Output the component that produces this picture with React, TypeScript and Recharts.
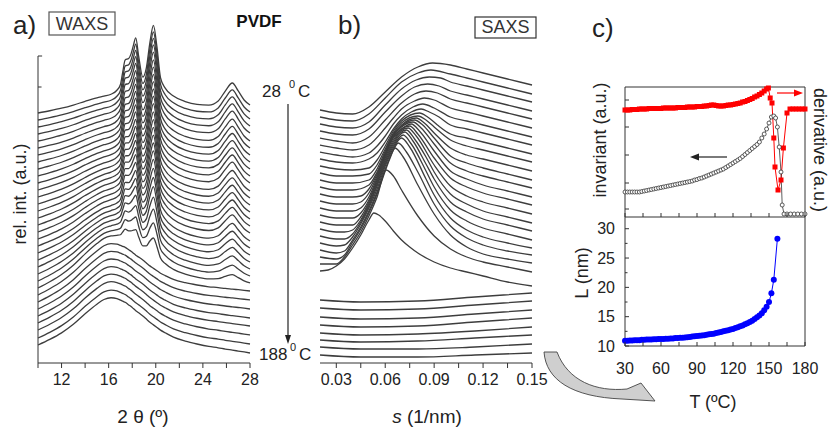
import React from "react";
import { LineChart, Line, XAxis, YAxis, ReferenceLine } from "recharts";

const FONT = '"Liberation Sans", Arial, sans-serif';
const INK = "#333";
const CURVE = "#3d3d3d";

// ---------- a) WAXS: profiles read from the pattern, one value per angle ----------
const waxsAngle = [10, 11, 12, 13, 14, 15, 15.6, 16.2, 16.7, 17.0, 17.2, 17.4, 17.7, 17.9, 18.1, 18.3, 18.55, 18.9, 19.2, 19.5, 19.8, 20.1, 20.4, 20.8, 21.5, 22.5, 23.5, 24.5, 25.3, 25.9, 26.5, 27.0, 27.5, 28];
const amorphHalo = [0, 6, 13, 22, 33, 43, 48, 50, 49.3, 48, 47, 46, 43.5, 42, 40, 38, 36, 33, 30, 27, 24.5, 22, 19.5, 17, 13, 9.5, 7, 5, 4, 3, 2.2, 1.5, 0.8, 0];
const crystalPeaks = [0, 0, 0, 0, 0, 0, 0, 1, 5, 11, 24, 36, 38, 43, 52, 60, 42, 22, 32, 58, 76, 55, 25, 15, 8, 3, 0.5, 0, 4, 14, 22, 14, 5, 0];

// semicrystalline scans (top 26): level at 10 and 28 deg, halo weight, peak scale
const crystLeft = [250, 243, 236, 229, 222, 215, 208, 201, 194, 187, 180, 173, 166, 159, 152, 145, 138, 131, 124, 117, 110, 103, 96, 89, 82, 75];
const crystRight = [258, 251, 244, 237, 230, 222, 215, 208, 201, 194, 187, 180, 172, 165, 158, 151, 144, 137, 130, 122, 115, 108, 101, 94, 87, 80];
const haloWeight = [0.3, 0.32, 0.34, 0.36, 0.38, 0.4, 0.42, 0.44, 0.46, 0.48, 0.5, 0.52, 0.55, 0.58, 0.61, 0.64, 0.67, 0.7, 0.73, 0.76, 0.8, 0.84, 0.88, 0.92, 0.96, 1.0];
const peakScale = [1, 1, 1, 1, 0.99, 0.98, 0.97, 0.96, 0.95, 0.94, 0.93, 0.92, 0.9, 0.88, 0.86, 0.84, 0.82, 0.8, 0.77, 0.74, 0.7, 0.66, 0.6, 0.52, 0.42, 0.3];
// molten scans (bottom 8)
const meltLeft = [68, 61, 54, 47, 40, 33, 25, 18];
const meltRight = [72, 63, 54, 45, 37, 28, 19, 10];

const waxsTicks = [10, 12, 14, 16, 18, 20, 22, 24, 26, 28];
const waxsLabels = [12, 16, 20, 24, 28];

// ---------- b) SAXS: [s, intensity] per scan, 28 C at top ----------
const saxsCurves: number[][][] = [
  [[0.02, 253], [0.03, 250], [0.04, 249], [0.05, 256], [0.06, 271], [0.07, 286], [0.08, 296], [0.089, 300], [0.1, 298], [0.11, 294], [0.12, 290], [0.135, 284], [0.15, 278]],
  [[0.02, 246], [0.03, 243], [0.04, 242], [0.05, 249], [0.06, 265], [0.07, 281], [0.08, 290], [0.088, 293], [0.1, 289], [0.11, 285], [0.12, 281], [0.135, 275], [0.15, 269]],
  [[0.02, 239], [0.03, 236], [0.04, 235], [0.05, 241], [0.06, 258], [0.07, 274], [0.079, 283], [0.087, 286], [0.094, 285], [0.1, 281], [0.11, 277], [0.12, 273], [0.135, 267], [0.15, 261]],
  [[0.02, 232], [0.03, 229], [0.04, 228], [0.05, 234], [0.06, 251], [0.07, 267], [0.078, 276], [0.086, 279], [0.093, 277], [0.1, 272], [0.11, 268], [0.12, 264], [0.135, 258], [0.15, 252]],
  [[0.02, 225], [0.03, 222], [0.04, 220], [0.05, 226], [0.06, 243], [0.07, 260], [0.078, 269], [0.085, 272], [0.092, 270], [0.1, 264], [0.11, 260], [0.12, 256], [0.135, 250], [0.15, 244]],
  [[0.02, 218], [0.03, 215], [0.04, 213], [0.05, 218], [0.06, 235], [0.065, 245], [0.07, 254], [0.078, 262], [0.084, 265], [0.09, 263], [0.1, 255], [0.11, 251], [0.12, 247], [0.135, 241], [0.15, 235]],
  [[0.02, 211], [0.03, 208], [0.04, 206], [0.05, 210], [0.055, 217], [0.06, 227], [0.065, 239], [0.07, 248], [0.077, 256], [0.083, 259], [0.09, 255], [0.1, 246], [0.11, 242], [0.12, 238], [0.135, 232], [0.15, 226]],
  [[0.02, 204], [0.03, 201], [0.04, 200], [0.05, 204], [0.055, 210], [0.06, 221], [0.065, 234], [0.07, 244], [0.076, 251], [0.082, 254], [0.087, 251], [0.093, 246], [0.1, 238], [0.11, 234], [0.12, 230], [0.135, 224], [0.15, 218]],
  [[0.02, 197], [0.03, 194], [0.04, 193], [0.05, 195], [0.055, 203], [0.06, 217], [0.065, 232], [0.07, 242], [0.081, 250], [0.086, 246], [0.092, 238], [0.1, 229], [0.11, 225], [0.12, 221], [0.135, 215], [0.15, 209]],
  [[0.02, 190], [0.03, 187], [0.04, 187], [0.05, 189], [0.055, 198], [0.06, 214], [0.065, 230], [0.07, 240], [0.08, 247], [0.085, 243], [0.09, 236], [0.1, 223], [0.11, 217], [0.12, 213], [0.135, 207], [0.15, 201]],
  [[0.02, 183], [0.03, 180], [0.04, 180], [0.05, 183], [0.055, 194], [0.06, 212], [0.065, 229], [0.07, 238], [0.079, 245], [0.084, 240], [0.09, 230], [0.1, 215], [0.11, 208], [0.12, 204], [0.135, 198], [0.15, 192]],
  [[0.02, 176], [0.03, 173], [0.04, 173], [0.05, 178], [0.055, 191], [0.06, 210], [0.065, 228], [0.07, 237], [0.078, 243], [0.083, 238], [0.09, 225], [0.1, 207], [0.11, 200], [0.12, 195], [0.135, 189], [0.15, 183]],
  [[0.02, 169], [0.03, 166], [0.04, 166], [0.045, 167], [0.05, 174], [0.055, 189], [0.06, 209], [0.065, 227], [0.07, 236], [0.077, 241], [0.082, 235], [0.09, 219], [0.1, 200], [0.11, 192], [0.12, 187], [0.135, 181], [0.15, 175]],
  [[0.02, 162], [0.03, 159], [0.04, 159], [0.045, 161], [0.05, 170], [0.055, 187], [0.06, 208], [0.065, 226], [0.07, 234], [0.076, 239], [0.081, 232], [0.09, 212], [0.1, 192], [0.11, 184], [0.12, 178], [0.135, 172], [0.15, 166]],
  [[0.02, 155], [0.03, 152], [0.04, 152], [0.045, 155], [0.05, 166], [0.055, 185], [0.06, 207], [0.065, 225], [0.075, 237], [0.08, 229], [0.09, 205], [0.1, 185], [0.11, 176], [0.12, 170], [0.135, 164], [0.15, 158]],
  [[0.02, 148], [0.03, 145], [0.04, 145], [0.045, 150], [0.05, 163], [0.055, 183], [0.06, 205], [0.065, 223], [0.074, 235], [0.079, 227], [0.09, 198], [0.1, 177], [0.11, 167], [0.12, 161], [0.135, 155], [0.15, 149]],
  [[0.02, 141], [0.03, 138], [0.04, 138], [0.045, 146], [0.05, 161], [0.055, 181], [0.06, 203], [0.065, 221], [0.073, 233], [0.078, 224], [0.085, 206], [0.09, 191], [0.1, 169], [0.11, 159], [0.12, 152], [0.135, 146], [0.15, 140]],
  [[0.02, 134], [0.03, 131], [0.035, 131], [0.04, 133], [0.045, 143], [0.05, 159], [0.055, 179], [0.06, 201], [0.065, 219], [0.072, 231], [0.077, 222], [0.085, 199], [0.09, 184], [0.1, 161], [0.11, 151], [0.12, 144], [0.135, 138], [0.15, 132]],
  [[0.02, 127], [0.03, 124], [0.035, 124], [0.04, 129], [0.045, 141], [0.05, 157], [0.055, 177], [0.06, 199], [0.065, 217], [0.071, 228], [0.076, 219], [0.085, 192], [0.09, 176], [0.1, 153], [0.11, 142], [0.12, 135], [0.135, 129], [0.15, 123]],
  [[0.02, 120], [0.03, 117], [0.035, 118], [0.04, 126], [0.045, 139], [0.05, 155], [0.055, 174], [0.06, 197], [0.065, 215], [0.07, 225], [0.075, 216], [0.085, 184], [0.09, 168], [0.1, 145], [0.11, 133], [0.12, 126], [0.135, 120], [0.15, 115]],
  [[0.02, 113], [0.03, 110], [0.035, 112], [0.04, 123], [0.045, 136], [0.05, 152], [0.055, 171], [0.06, 194], [0.065, 213], [0.068, 220], [0.073, 211], [0.08, 191], [0.09, 159], [0.1, 137], [0.11, 125], [0.12, 118], [0.135, 112], [0.15, 108]],
  [[0.02, 106], [0.03, 104], [0.035, 108], [0.04, 121], [0.045, 134], [0.05, 150], [0.055, 169], [0.06, 192], [0.063, 205], [0.066, 215], [0.071, 206], [0.08, 178], [0.09, 149], [0.1, 128], [0.11, 116], [0.12, 109], [0.135, 104], [0.15, 100]],
  [[0.02, 99], [0.03, 99], [0.035, 106], [0.04, 118], [0.045, 131], [0.05, 147], [0.055, 166], [0.0605, 193], [0.065, 187], [0.07, 173], [0.08, 147], [0.09, 127], [0.1, 114], [0.11, 106], [0.12, 101], [0.135, 96], [0.15, 91]],
  [[0.02, 92], [0.025, 93], [0.03, 97], [0.035, 104], [0.04, 115], [0.045, 128], [0.05, 143], [0.053, 150], [0.056, 148], [0.06, 142], [0.065, 132], [0.07, 123], [0.075, 116], [0.08, 110], [0.09, 101], [0.1, 95], [0.11, 91], [0.12, 87], [0.135, 81], [0.15, 77]],
];
const saxsMelt: number[][][] = [
  [[0.02, 63], [0.045, 61], [0.08, 62], [0.115, 66], [0.15, 70]],
  [[0.02, 55], [0.045, 53], [0.08, 54], [0.115, 58], [0.15, 62]],
  [[0.02, 46], [0.045, 44], [0.08, 45], [0.115, 49], [0.15, 53]],
  [[0.02, 38], [0.045, 36], [0.08, 37], [0.115, 41], [0.15, 45]],
  [[0.02, 30], [0.045, 28], [0.08, 29], [0.115, 32], [0.15, 36]],
  [[0.02, 23], [0.045, 21], [0.08, 22], [0.115, 25], [0.15, 28]],
  [[0.02, 16], [0.045, 14], [0.08, 14], [0.115, 16], [0.15, 19]],
  [[0.02, 8], [0.045, 6], [0.08, 6], [0.115, 8], [0.15, 10]],
];
const saxsTicks = [0.03, 0.045, 0.06, 0.075, 0.09, 0.105, 0.12, 0.135, 0.15];
const saxsLabels = [0.03, 0.06, 0.09, 0.12, 0.15];

// ---------- c) invariant / derivative / long period vs T ----------
const invariant = [[30, 25], [32, 25], [34, 25], [36, 25], [38, 25], [40, 25], [42, 25], [44, 25.5], [46, 26], [48, 26.5], [50, 27], [52, 27.5], [54, 28], [56, 28.5], [58, 29], [60, 29.5], [62, 30], [64, 30.5], [66, 31], [68, 31.5], [70, 32], [72, 32.5], [74, 33], [76, 33.5], [78, 34], [80, 34.5], [82, 35], [84, 35.5], [86, 36], [88, 37], [90, 37.5], [92, 38.5], [94, 39], [96, 40], [98, 41], [100, 42], [102, 43], [104, 44], [106, 45], [108, 46], [110, 47], [112, 48], [114, 49.5], [116, 51], [118, 52.5], [120, 54], [122, 55.5], [124, 57], [126, 58.5], [128, 60.5], [130, 62.5], [132, 64.5], [134, 66.5], [136, 68.5], [138, 70.5], [140, 72.5], [142, 75], [144, 79], [146, 83], [148, 88], [150, 94], [152, 100], [154, 101], [155.5, 99], [157, 90], [158.5, 70], [160, 45], [161, 12], [162.5, 3], [165, 3], [168, 3], [171, 3], [174, 3], [177, 3], [180, 3]];
const derivative = [[30, 107], [32, 107], [34, 107], [36, 107.5], [38, 107.5], [40, 107.5], [42, 108], [44, 108], [46, 108], [48, 108], [50, 108.5], [52, 108.5], [54, 108.5], [56, 108.5], [58, 108.5], [60, 108.5], [62, 109], [64, 109], [66, 109], [68, 109], [70, 109], [72, 109], [74, 109.5], [76, 109.5], [78, 109.5], [80, 109.5], [82, 110], [84, 110], [86, 110], [88, 110], [90, 110.5], [92, 110.5], [94, 110.5], [96, 111], [98, 111], [100, 111.5], [102, 112], [104, 112], [106, 111.5], [108, 111], [110, 111], [112, 111], [114, 111.5], [116, 112], [118, 112], [120, 112.5], [122, 113], [124, 113.5], [126, 114], [128, 115], [130, 115.5], [132, 116.5], [134, 117.5], [136, 118.5], [138, 120], [140, 121], [142, 122.5], [144, 124], [146, 126], [148, 128], [149.5, 129], [151, 119], [152.5, 114], [154, 79], [155, 50], [157.5, 27], [160, 37], [162, 69], [165, 104], [167.5, 108], [170, 108], [172.5, 108], [175, 108], [177.5, 108], [180, 108]];
const longPeriod = [[30, 10.9], [32, 10.9], [34, 10.95], [36, 10.95], [38, 11.0], [40, 11.0], [42, 11.0], [44, 11.05], [46, 11.05], [48, 11.1], [50, 11.1], [52, 11.1], [54, 11.15], [56, 11.15], [58, 11.2], [60, 11.2], [62, 11.2], [64, 11.25], [66, 11.25], [68, 11.3], [70, 11.3], [72, 11.35], [74, 11.35], [76, 11.4], [78, 11.4], [80, 11.45], [82, 11.5], [84, 11.55], [86, 11.6], [88, 11.65], [90, 11.7], [92, 11.75], [94, 11.8], [96, 11.85], [98, 11.9], [100, 12.0], [102, 12.05], [104, 12.1], [106, 12.2], [108, 12.3], [110, 12.4], [112, 12.5], [114, 12.6], [116, 12.7], [118, 12.8], [120, 12.9], [122, 13.05], [124, 13.2], [126, 13.35], [128, 13.5], [130, 13.7], [132, 13.9], [134, 14.1], [136, 14.3], [138, 14.6], [140, 14.9], [142, 15.2], [144, 15.6], [146, 16.1], [148, 16.7], [150, 17.5], [152, 19.0], [154, 21.3], [157, 28.3]];

const tempTicks = [30, 45, 60, 75, 90, 105, 120, 135, 150, 165, 180];
const lTicks = [10, 12.5, 15, 17.5, 20, 22.5, 25, 27.5, 30];
const invariantTicks = [8, 34, 62, 90, 117];
const derivTicks = [34, 69, 108];

// ticks pointing into the frame, labels outside
const edgeTick =
  (side: "bottom" | "left" | "right", len: (v: number) => number, label: (v: number) => string = () => "", gap = 0) =>
  (props: any) => {
    const { x, y, payload } = props;
    const v = Number(payload.value);
    const n = len(v);
    const t = label(v);
    if (side === "bottom") {
      return (
        <g>
          <line x1={x} y1={y} x2={x} y2={y - n} stroke={INK} />
          {t ? (
            <text x={x} y={y + gap} textAnchor="middle" fontSize={16} fill="#222">
              {t}
            </text>
          ) : null}
        </g>
      );
    }
    if (side === "left") {
      return (
        <g>
          <line x1={x} y1={y} x2={x + n} y2={y} stroke={INK} />
          {t ? (
            <text x={x - gap} y={y + 5.5} textAnchor="end" fontSize={16} fill="#222">
              {t}
            </text>
          ) : null}
        </g>
      );
    }
    return (
      <g>
        <line x1={x} y1={y} x2={x - n} y2={y} stroke={INK} />
      </g>
    );
  };

const RedSquare = (p: any) => (
  <rect key={`sq${p.index}`} x={p.cx - 2.5} y={p.cy - 2.5} width={5} height={5} fill="#ff0000" />
);

export default function App() {
  const waxsRows = waxsAngle.map((x, k) => {
    const row: any = { x };
    crystLeft.forEach((l, i) => {
      row["c" + i] = l + ((crystRight[i] - l) * (x - 10)) / 18 + haloWeight[i] * amorphHalo[k] + peakScale[i] * crystalPeaks[k];
    });
    meltLeft.forEach((l, j) => {
      row["m" + j] = l + ((meltRight[j] - l) * (x - 10)) / 18 + amorphHalo[k];
    });
    return row;
  });
  const saxsData = saxsCurves.map((c) => c.map(([s, h]) => ({ s, h })));
  const saxsMeltData = saxsMelt.map((c) => c.map(([s, h]) => ({ s, h })));
  const invData = invariant.map(([T, v]) => ({ T, v }));
  const derData = derivative.map(([T, v]) => ({ T, v }));
  const lData = longPeriod.map(([T, v]) => ({ T, v }));

  const waxsKeys = [...crystLeft.map((_, i) => "c" + i), ...meltLeft.map((_, j) => "m" + j)];

  return (
    <div style={{ position: "absolute", left: 0, top: 0, width: 829, height: 429, background: "#fff", fontFamily: FONT, overflow: "hidden" }}>
      {/* a) WAXS */}
      <div style={{ position: "absolute", left: 0, top: 0 }}>
        <LineChart width={265} height={429} data={waxsRows} margin={{ top: 20, right: 15, bottom: 36, left: 38 }}>
          <XAxis
            dataKey="x"
            type="number"
            domain={[10, 28]}
            ticks={waxsTicks}
            interval={0}
            tickFormatter={(v: number) => (waxsLabels.includes(v) ? String(v) : "")}
            height={30}
            stroke={INK}
            tickSize={5}
            tickMargin={6}
            tick={{ fontSize: 16, fill: "#222" }}
          />
          <YAxis hide type="number" domain={[0, 343]} />
          <ReferenceLine segment={[{ x: 10, y: 0 }, { x: 10, y: 307 }]} stroke={INK} />
          <ReferenceLine segment={[{ x: 10, y: 307 }, { x: 10.35, y: 307 }]} stroke={INK} />
          <ReferenceLine segment={[{ x: 10, y: 276 }, { x: 10.3, y: 276 }]} stroke={INK} />
          {waxsKeys.map((k) => (
            <Line key={k} dataKey={k} type="monotone" stroke={CURVE} strokeWidth={1.3} dot={false} isAnimationActive={false} />
          ))}
        </LineChart>
      </div>

      {/* b) SAXS */}
      <div style={{ position: "absolute", left: 270, top: 0 }}>
        <LineChart width={290} height={429} margin={{ top: 20, right: 28, bottom: 36, left: 50 }}>
          <XAxis
            dataKey="s"
            type="number"
            domain={[0.02, 0.15]}
            ticks={saxsTicks}
            interval={0}
            tickFormatter={(v: number) => (saxsLabels.includes(v) ? v.toFixed(2) : "")}
            height={30}
            stroke={INK}
            tickSize={5}
            tickMargin={6}
            tick={{ fontSize: 16, fill: "#222" }}
            allowDuplicatedCategory={false}
          />
          <YAxis hide type="number" domain={[0, 343]} />
          {saxsData.map((d, i) => (
            <Line key={"s" + i} data={d} dataKey="h" type="monotone" stroke={CURVE} strokeWidth={1.3} dot={false} isAnimationActive={false} />
          ))}
          {saxsMeltData.map((d, i) => (
            <Line key={"sm" + i} data={d} dataKey="h" type="monotone" stroke={CURVE} strokeWidth={1.3} dot={false} isAnimationActive={false} />
          ))}
        </LineChart>
      </div>

      {/* c) top: invariant and derivative */}
      <div style={{ position: "absolute", left: 560, top: 0 }}>
        <LineChart width={269} height={230} margin={{ top: 87, right: 14, bottom: 3, left: 25 }}>
          <XAxis
            dataKey="T"
            type="number"
            domain={[30, 180]}
            ticks={tempTicks}
            interval={0}
            height={10}
            stroke={INK}
            tickLine={false}
            tickSize={0}
            tickMargin={0}
            tick={edgeTick("bottom", () => 4)}
            allowDuplicatedCategory={false}
          />
          <YAxis yAxisId="l" type="number" domain={[0, 130]} ticks={invariantTicks} width={40} stroke={INK} tickLine={false} tickSize={0} tickMargin={0} tick={edgeTick("left", () => 4)} interval={0} />
          <YAxis yAxisId="r" orientation="right" type="number" domain={[0, 130]} ticks={derivTicks} width={10} stroke={INK} tickLine={false} tickSize={0} tickMargin={0} tick={edgeTick("right", () => 4)} interval={0} />
          <ReferenceLine yAxisId="l" y={130} stroke={INK} />
          <Line yAxisId="l" data={derData} dataKey="v" type="linear" stroke="#ff0000" strokeWidth={1} dot={RedSquare} isAnimationActive={false} />
          <Line
            yAxisId="l"
            data={invData}
            dataKey="v"
            type="linear"
            stroke="#333"
            strokeWidth={0.8}
            dot={{ r: 2, fill: "#fff", stroke: "#333", strokeWidth: 0.8 }}
            isAnimationActive={false}
          />
        </LineChart>
      </div>

      {/* c) bottom: long period */}
      <div style={{ position: "absolute", left: 560, top: 200 }}>
        <LineChart width={269} height={229} margin={{ top: 17, right: 24, bottom: 53, left: 25 }}>
          <XAxis
            dataKey="T"
            type="number"
            domain={[30, 180]}
            ticks={tempTicks}
            interval={0}
            height={30}
            stroke={INK}
            tickLine={false}
            tickSize={0}
            tickMargin={0}
            tick={edgeTick("bottom", () => 4, (v) => (v % 30 === 0 ? String(v) : ""), 28)}
            allowDuplicatedCategory={false}
          />
          <YAxis
            type="number"
            domain={[10, 32]}
            ticks={lTicks}
            interval={0}
            width={40}
            stroke={INK}
            tickLine={false}
            tickSize={0}
            tickMargin={0}
            tick={edgeTick("left", (v) => (v % 5 === 0 ? 4 : 2.5), (v) => (v % 5 === 0 ? String(v) : ""), 10)}
          />
          <ReferenceLine x={180} stroke={INK} />
          <Line data={lData} dataKey="v" type="linear" stroke="#0000ff" strokeWidth={1} dot={{ r: 3, fill: "#0000ff", stroke: "none" }} isAnimationActive={false} />
        </LineChart>
      </div>

      {/* labels and annotations */}
      <svg width={829} height={429} style={{ position: "absolute", left: 0, top: 0, pointerEvents: "none" }} fontFamily={FONT}>
        <text x={13} y={34} fontSize={26} fill="#222">a)</text>
        <rect x={49} y={12} width={66} height={23} fill="none" stroke="#555" strokeWidth={1.2} />
        <text x={82} y={30} fontSize={18} textAnchor="middle" fill="#333">WAXS</text>
        <text x={259} y={27} fontSize={17} fontWeight="bold" textAnchor="middle" fill="#111">PVDF</text>
        <text transform="translate(26,194) rotate(-90)" fontSize={18} textAnchor="middle" fill="#222">rel. int. (a.u.)</text>
        <text x={143} y={423} fontSize={19} textAnchor="middle" fill="#222">2 θ (º)</text>

        <text x={262} y={97} fontSize={17} fill="#222">28</text>
        <text x={289} y={88} fontSize={11} fill="#222">0</text>
        <text x={298} y={97} fontSize={17} fill="#222">C</text>
        <line x1={288} y1={104} x2={288} y2={336} stroke="#222" strokeWidth={1.2} />
        <polygon points="288,344 285,335 291,335" fill="#222" />
        <text x={259} y={360} fontSize={17} fill="#222">188</text>
        <text x={290} y={351} fontSize={11} fill="#222">0</text>
        <text x={299} y={360} fontSize={17} fill="#222">C</text>

        <text x={338} y={34} fontSize={26} fill="#222">b)</text>
        <rect x={475} y={17} width={61} height={21} fill="none" stroke="#333" strokeWidth={1.2} />
        <text x={505.5} y={33} fontSize={18} textAnchor="middle" fill="#333">SAXS</text>
        <text x={427} y={423} fontSize={19} textAnchor="middle" fill="#222">
          <tspan fontStyle="italic">s</tspan> (1/nm)
        </text>

        <text x={592} y={37} fontSize={26} fill="#222">c)</text>
        <text transform="translate(606,140) rotate(-90)" fontSize={18} textAnchor="middle" fill="#222">invariant (a.u.)</text>
        <text transform="translate(814,150) rotate(90)" fontSize={18} textAnchor="middle" fill="#222">derivative (a.u.)</text>
        <text transform="translate(588,273) rotate(-90)" fontSize={18} textAnchor="middle" fill="#222">L (nm)</text>
        <text x={713} y={408} fontSize={18} textAnchor="middle" fill="#222">T (ºC)</text>

        <line x1={727} y1={157} x2={697} y2={157} stroke="#222" strokeWidth={1.2} />
        <polygon points="690,157 699,153.5 699,160.5" fill="#222" />
        <line x1={777} y1={93} x2={795} y2={93} stroke="#ff0000" strokeWidth={1.2} />
        <polygon points="803,93 794,89.5 794,96.5" fill="#ff0000" />

        <path
          d="M 544 352 C 546 380 572 397 622 399 L 655 401 L 641 383 L 627 389 C 596 392 568 381 557 352 Z"
          fill="#cfcfcf"
          stroke="#444"
          strokeWidth={0.9}
        />
      </svg>
    </div>
  );
}
